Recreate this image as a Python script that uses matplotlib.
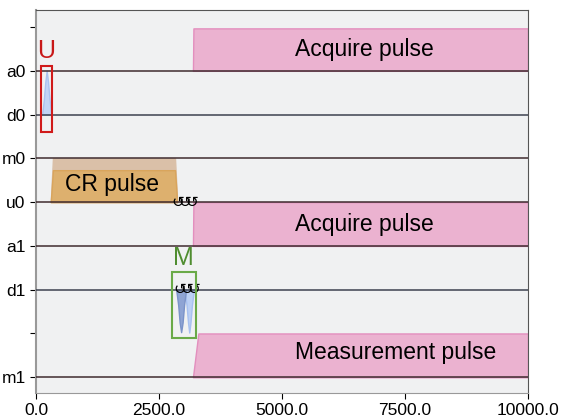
import matplotlib.pyplot as plt
from matplotlib.patches import Rectangle

plt.rcParams['font.family'] = ['Liberation Sans', 'DejaVu Sans']

# channel rows (top to bottom), blank rows have no label
tick_pos = [1, 0, -1, -2, -3, -4, -5, -6, -7]
tick_labels = ["", "a0", "d0", "m0", "u0", "a1", "d1", "", "m1"]
chan_lines = {"a0": 0, "d0": -1, "m0": -2, "u0": -3, "a1": -4, "d1": -5, "m1": -7}

# acquire pulses (time, amplitude)
acq_t = [3190, 3200, 10000, 10000]
acq_a = [0.0, 0.97, 0.97, 0.0]
acq1_a = [0.0, 1.0, 1.0, 0.0]

# measurement pulse on m1
meas_t = [3190, 3300, 10000, 10000]
meas_a = [0.0, 1.0, 1.0, 0.0]

# CR pulse on u0 (abs / real)
cr_t = [300, 345, 2825, 2870]
cr_abs = [0.0, 1.0, 1.0, 0.0]
cr_re = [0.0, 0.73, 0.73, 0.0]

# single-qubit gaussian on d0
d0_t = [125, 160, 190, 217, 245, 275, 310]
d0_a = [0.0, 0.35, 0.75, 1.0, 0.75, 0.35, 0.0]

# measurement-side pulses on d1
d1a_t = [2850, 2890, 2920, 2950, 2980, 3010, 3050]
d1a_a = [0.0, -0.35, -0.75, -0.97, -0.75, -0.35, 0.0]
d1b_t = [3020, 3060, 3090, 3115, 3140, 3170, 3210]
d1b_a = [0.0, -0.35, -0.75, -0.98, -0.75, -0.35, 0.0]

# frame changes
fc_u0 = [2890, 3030, 3170]
fc_d1 = [2930, 3070, 3210]

fig = plt.figure(figsize=(5.65, 4.16), dpi=100)
ax = fig.add_axes([0.0637, 0.0553, 0.8708, 0.9207])
ax.set_facecolor("#f0f1f2")

pink = "#ebb2d0"
pink_edge = "#e38fbe"


def fill(t, a, base, color, edge=None, alpha=1.0, z=2):
    ax.fill_between(t, [base + v for v in a], base, color=color, alpha=alpha,
                    edgecolor=edge if edge else color, linewidth=1.0, zorder=z)


fill(acq_t, acq_a, chan_lines["a0"], pink, pink_edge)
fill(acq_t, acq1_a, chan_lines["a1"], pink, pink_edge)
fill(meas_t, meas_a, chan_lines["m1"], pink, pink_edge)
fill(cr_t, cr_abs, chan_lines["u0"], "#dac0a8", z=2)
fill(cr_t, cr_re, chan_lines["u0"], "#ddb06e", edge="#d9a55c", z=3)
fill(d0_t, d0_a, chan_lines["d0"], "#c2d4f6", edge="#aac3f0")
fill(d1b_t, d1b_a, chan_lines["d1"], "#bcd0f5", edge="#a8c1f0")
fill(d1a_t, d1a_a, chan_lines["d1"], "#8fa4d4", edge="#7b93c9")

for name, y in chan_lines.items():
    c = "#3c4150" if name.startswith("d") else "#3f2b2f"
    ax.axhline(y, color=c, linewidth=1.1, zorder=4)

ax.text(6677, 0.48, "Acquire pulse", fontsize=16.5, ha="center", va="center", zorder=5)
ax.text(6677, -3.52, "Acquire pulse", fontsize=16.5, ha="center", va="center", zorder=5)
ax.text(7317, -6.43, "Measurement pulse", fontsize=16.5, ha="center", va="center", zorder=5)
ax.text(1535, -2.6, "CR pulse", fontsize=16.5, ha="center", va="center", zorder=5)

for t in fc_u0:
    ax.text(t, -3.0, "\u21ba", fontsize=11, ha="center", va="center",
            family="DejaVu Sans", zorder=6)
for t in fc_d1:
    ax.text(t, -5.0, "\u21ba", fontsize=11, ha="center", va="center",
            family="DejaVu Sans", zorder=6)

ax.add_patch(Rectangle((100, -1.39), 225, 1.5, fill=False, edgecolor="#d01a1a",
                       linewidth=1.5, zorder=7))
ax.text(210, 0.45, "U", color="#c81818", fontsize=18, ha="center", va="center")
ax.add_patch(Rectangle((2764, -6.11), 490, 1.52, fill=False, edgecolor="#6aaa48",
                       linewidth=1.5, zorder=7))
ax.text(2990, -4.27, "M", color="#4f8d30", fontsize=18, ha="center", va="center")

ax.set_xlim(0, 10000)
ax.set_ylim(-7.36, 1.39)
ax.set_xticks([0, 2500, 5000, 7500, 10000])
ax.set_xticklabels(["0.0", "2500.0", "5000.0", "7500.0", "10000.0"])
ax.set_yticks(tick_pos)
ax.set_yticklabels(tick_labels)
ax.tick_params(labelsize=12.5, colors="black", length=4, width=0.8)
for s in ax.spines.values():
    s.set_color("#555555")
ax.spines["left"].set_color("#999999")
ax.spines["left"].set_linewidth(1.5)
ax.spines["bottom"].set_color("#999999")

fig.savefig("out.png", dpi=100)
